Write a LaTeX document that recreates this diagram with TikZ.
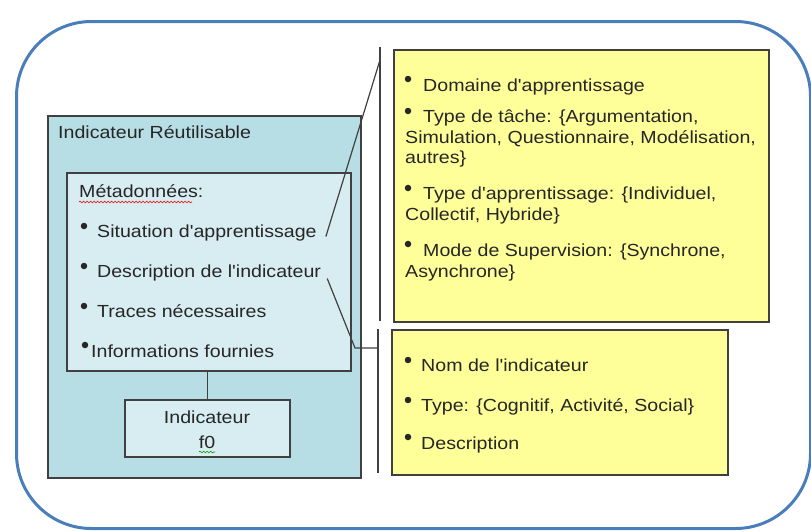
\documentclass[tikz,border=0pt]{standalone}
\usepackage{fontspec}
\setmainfont{Liberation Sans}[FakeStretch=1.12,Ligatures=TeXOff]
\usetikzlibrary{decorations.pathmorphing}
\definecolor{outerblue}{RGB}{74,126,187}
\definecolor{tealfill}{RGB}{183,222,228}
\definecolor{metafill}{RGB}{216,237,242}
\definecolor{yel}{RGB}{255,255,153}
\definecolor{bord}{RGB}{64,64,64}
\definecolor{txt}{RGB}{38,38,38}
\begin{document}
\begin{tikzpicture}[x=1pt,y=-1pt,
  box/.style={draw=bord,line width=1.5pt,inner sep=0pt,anchor=north west},
  lbl/.style={anchor=base west,inner sep=0pt,text=txt,font=\fontsize{17.5}{21}\selectfont},
  clbl/.style={lbl,anchor=base},
  bul/.style={circle,fill=txt,inner sep=0pt,minimum size=6.5pt},
  conn/.style={draw=bord,line width=1.2pt},
  squig/.style={decorate,decoration={snake,amplitude=0.9pt,segment length=3.5pt},line width=0.6pt}]
\useasboundingbox (0,0) rectangle (811,531);
% outer frame
\node[draw=outerblue,line width=3pt,rounded corners=75pt,minimum width=794pt,minimum height=507pt,anchor=north west] (frame) at (15,20) {};
% left boxes
\node[box,fill=tealfill,minimum width=313pt,minimum height=362pt] (reuse) at (47,115) {};
\node[box,fill=metafill,minimum width=284pt,minimum height=198pt] (meta) at (66,172) {};
\node[box,fill=metafill,minimum width=165pt,minimum height=57pt] (ind) at (124,399) {};
\draw[conn] (meta.south -| ind.north) -- (ind.north);
% yellow boxes
\node[box,fill=yel,minimum width=375pt,minimum height=272pt] (y1) at (393,49) {};
\node[box,fill=yel,minimum width=336pt,minimum height=145pt] (y2) at (391,329) {};
% bracket lines
\coordinate (v1top) at (380,47);
\coordinate (v1bot) at (380,321);
\coordinate (v2top) at (378,329);
\coordinate (v2bot) at (378,473);
\coordinate (v1join) at (380,60);
\coordinate (v2join) at (378,348);
\coordinate (bend) at (355,348);
\draw[conn] (v1top) -- (v1bot);
\draw[conn] (v2top) -- (v2bot);
% left texts
\node[lbl] (title) at (58,138) {Indicateur Réutilisable};
\node[lbl] (metat) at (79,197) {Métadonnées:};
\draw[red,squig] (79,202) -- (192,202);
\node[bul] (b1) at (84,226) {};
\node[lbl] (sit) at (97,237) {Situation d'apprentissage};
\node[bul] (b2) at (84,266) {};
\node[lbl] (desc) at (97,277) {Description de l'indicateur};
\node[bul] (b3) at (84,306) {};
\node[lbl] (traces) at (97,317) {Traces nécessaires};
\node[bul] (b4) at (85,345) {};
\node[lbl] (infos) at (91,357) {Informations fournies};
\node[clbl] (indt) at (207,423) {Indicateur};
\node[clbl] (f0) at (207,448) {f0};
\draw[green!60!black,squig] (199,452) -- (215,452);
% connectors
\draw[conn] ([xshift=9pt,yshift=-4pt]sit.east) -- (v1join);
\draw[conn] ([xshift=6pt,yshift=-6pt]desc.east) -- (bend) -- (v2join);
% yellow box 1 texts
\node[bul] (c1) at (408,79) {};
\node[lbl] (dom) at (423,91) {Domaine d'apprentissage};
\node[bul] (c2) at (408,111) {};
\node[lbl] (tt1) at (423,122) {Type de tâche: \{Argumentation,};
\node[lbl] (tt2) at (405,143) {Simulation, Questionnaire, Modélisation,};
\node[lbl] (tt3) at (405,163) {autres\}};
\node[bul] (c3) at (408,188) {};
\node[lbl] (ta1) at (423,199) {Type d'apprentissage: \{Individuel,};
\node[lbl] (ta2) at (405,220) {Collectif, Hybride\}};
\node[bul] (c4) at (408,244) {};
\node[lbl] (ms1) at (423,256) {Mode de Supervision: \{Synchrone,};
\node[lbl] (ms2) at (405,277) {Asynchrone\}};
% yellow box 2 texts
\node[bul] (d1) at (408,360) {};
\node[lbl] (nom) at (421,371) {Nom de l'indicateur};
\node[bul] (d2) at (408,400) {};
\node[lbl] (typ) at (421,411) {Type: \{Cognitif, Activité, Social\}};
\node[bul] (d3) at (408,437) {};
\node[lbl] (dsc) at (421,449) {Description};
\end{tikzpicture}
\end{document}
